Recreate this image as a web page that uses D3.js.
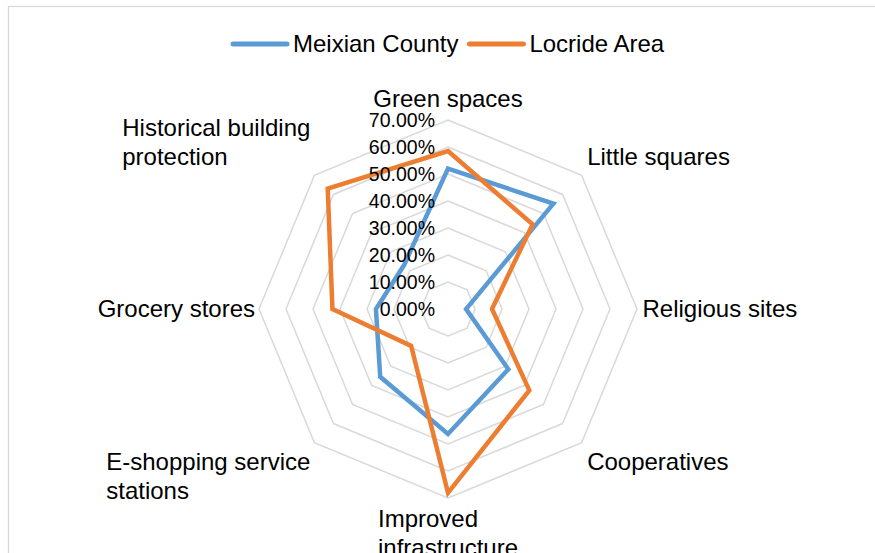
<!DOCTYPE html>
<html>
<head>
<meta charset="utf-8">
<script src="https://cdn.jsdelivr.net/npm/d3@7"></script>
<style>
  html, body { margin: 0; padding: 0; background: #ffffff; }
  svg { display: block; font-family: "Liberation Sans", Arial, sans-serif; }
</style>
</head>
<body>
<svg id="chart" width="875" height="553"></svg>
<script>
// Survey categories, clockwise from the top
const categories = [
  "Green spaces",
  "Little squares",
  "Religious sites",
  "Cooperatives",
  "Improved infrastructure",
  "E-shopping service stations",
  "Grocery stores",
  "Historical building protection"
];

// Share of respondents per category
const meixianCounty = [0.52, 0.552, 0.067, 0.316, 0.463, 0.355, 0.267, 0.23];
const locrideArea   = [0.585, 0.443, 0.163, 0.426, 0.681, 0.193, 0.428, 0.63];

const seriesNames  = ["Meixian County", "Locride Area"];
const seriesColors = ["#5B9BD5", "#ED7D31"];

// Radial gridline values
const tickValues = [0, 0.1, 0.2, 0.3, 0.4, 0.5, 0.6, 0.7];

const W = 875, H = 553;
const cx = 448, cy = 309;
const R = 189;

const svg = d3.select("#chart");

// outer chart frame
svg.append("rect")
  .attr("x", 8.5).attr("y", 6.5)
  .attr("width", 920).attr("height", 620)
  .attr("fill", "#ffffff")
  .attr("stroke", "#d9d9d9")
  .attr("stroke-width", 1.3);

const r = d3.scaleLinear().domain([0, 0.7]).range([0, R]);
const angle = d3.scaleLinear().domain([0, categories.length]).range([0, 2 * Math.PI]);

const g = svg.append("g").attr("transform", `translate(${cx},${cy})`);

// octagonal gridlines
const ringLine = d3.lineRadial()
  .angle((d, i) => angle(i))
  .radius(d => r(d))
  .curve(d3.curveLinearClosed);

g.selectAll("path.ring")
  .data(tickValues.filter(v => v > 0))
  .join("path")
  .attr("class", "ring")
  .attr("d", v => ringLine(categories.map(() => v)))
  .attr("fill", "none")
  .attr("stroke", "#d9d9d9")
  .attr("stroke-width", 1.5);

// series polygons
const seriesLine = d3.lineRadial()
  .angle((d, i) => angle(i))
  .radius(d => r(d))
  .curve(d3.curveLinearClosed);

[meixianCounty, locrideArea].forEach((vals, k) => {
  g.append("path")
    .attr("d", seriesLine(vals))
    .attr("fill", "none")
    .attr("stroke", seriesColors[k])
    .attr("stroke-width", 4.5)
    .attr("stroke-linejoin", "miter");
});

// value axis labels along the top spoke
g.selectAll("text.tick")
  .data(tickValues)
  .join("text")
  .attr("class", "tick")
  .attr("x", -13)
  .attr("y", v => -r(v))
  .attr("dy", "0.35em")
  .attr("text-anchor", "end")
  .attr("font-size", "19.5px")
  .attr("fill", "#000")
  .text(d3.format(".2%"));

// category labels, wrapped and left-aligned within their block
const labelSize = 24, lineH = 29, wrapW = 212;
const measure = svg.append("text").attr("font-size", labelSize + "px").attr("visibility", "hidden");
function textWidth(s) { measure.text(s); return measure.node().getComputedTextLength(); }
function wrap(s) {
  const words = s.split(" ");
  const lines = [];
  let cur = "";
  words.forEach(w => {
    const t = cur ? cur + " " + w : w;
    if (cur && textWidth(t) > wrapW) { lines.push(cur); cur = w; } else cur = t;
  });
  lines.push(cur);
  return lines;
}

categories.forEach((name, i) => {
  const a = angle(i);
  const sx = Math.sin(a), sy = -Math.cos(a);
  const vx = cx + R * sx, vy = cy + R * sy;
  const lines = wrap(name);
  const bw = d3.max(lines, textWidth);
  const bh = lines.length * lineH;
  const onVertical = Math.abs(sx) < 1e-6;
  let left, top;
  if (onVertical) left = vx - bw / 2;
  else if (sx > 0) left = vx + 5.5;
  else left = vx - 4 - bw;
  const vGap = onVertical ? 6.5 : 4.5;
  if (Math.abs(sy) < 1e-6) top = vy - bh / 2;
  else if (sy > 0) top = vy + vGap;
  else top = vy - vGap - bh;
  const t = svg.append("text")
    .attr("font-size", labelSize + "px")
    .attr("fill", "#000");
  lines.forEach((ln, j) => {
    t.append("tspan")
      .attr("x", left)
      .attr("y", top + lineH * j + lineH / 2)
      .attr("dy", "0.35em")
      .text(ln);
  });
});
measure.remove();

// legend
const legend = svg.append("g").attr("transform", "translate(231,44)");
let lx = 0;
seriesNames.forEach((name, k) => {
  legend.append("line")
    .attr("x1", lx + 2).attr("x2", lx + 56)
    .attr("y1", 0).attr("y2", 0)
    .attr("stroke", seriesColors[k])
    .attr("stroke-width", 5)
    .attr("stroke-linecap", "round");
  const t = legend.append("text")
    .attr("x", lx + 62)
    .attr("y", 0)
    .attr("dy", "0.35em")
    .attr("font-size", "24px")
    .attr("fill", "#000")
    .text(name);
  lx += 62 + t.node().getComputedTextLength() + 9;
});
</script>
</body>
</html>
